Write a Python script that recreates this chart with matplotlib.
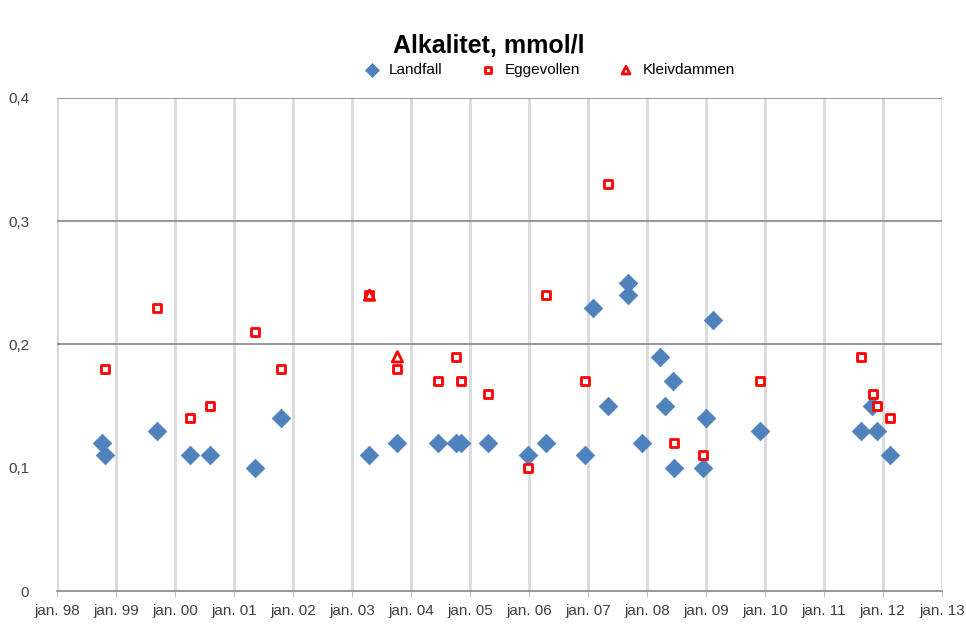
import datetime as dt
import matplotlib
matplotlib.use("Agg")
import matplotlib.pyplot as plt
from matplotlib.ticker import FuncFormatter

# Landfall: sample dates and alkalinity (mmol/l)
landfall_dates = ["1998-10-05", "1998-10-25", "1999-09-10", "2000-04-01", "2000-08-05",
                  "2001-05-10", "2001-10-20", "2003-04-20", "2003-10-05", "2004-06-15",
                  "2004-10-05", "2004-11-05", "2005-04-25", "2005-12-25", "2006-04-20",
                  "2006-12-15", "2007-02-05", "2007-05-05", "2007-09-05", "2007-09-06",
                  "2007-12-05", "2008-03-20", "2008-04-25", "2008-06-10", "2008-06-20",
                  "2008-12-15", "2009-01-01", "2009-02-15", "2009-12-05", "2011-08-20",
                  "2011-10-25", "2011-11-25", "2012-02-15"]
landfall_vals = [0.12, 0.11, 0.13, 0.11, 0.11,
                 0.10, 0.14, 0.11, 0.12, 0.12,
                 0.12, 0.12, 0.12, 0.11, 0.12,
                 0.11, 0.23, 0.15, 0.25, 0.24,
                 0.12, 0.19, 0.15, 0.17, 0.10,
                 0.10, 0.14, 0.22, 0.13, 0.13,
                 0.15, 0.13, 0.11]

# Eggevollen
egge_dates = ["1998-10-25", "1999-09-10", "2000-04-01", "2000-08-05", "2001-05-10",
              "2001-10-20", "2003-04-20", "2003-10-10", "2004-06-20", "2004-10-05",
              "2004-11-05", "2005-04-25", "2005-12-25", "2006-04-20", "2006-12-15",
              "2007-05-05", "2008-06-20", "2008-12-15", "2009-12-05", "2011-08-20",
              "2011-10-30", "2011-11-25", "2012-02-15"]
egge_vals = [0.18, 0.23, 0.14, 0.15, 0.21,
             0.18, 0.24, 0.18, 0.17, 0.19,
             0.17, 0.16, 0.10, 0.24, 0.17,
             0.33, 0.12, 0.11, 0.17, 0.19,
             0.16, 0.15, 0.14]

# Kleivdammen
kleiv_dates = ["2003-04-20", "2003-10-10"]
kleiv_vals = [0.24, 0.19]

year_ticks = list(range(1998, 2014))


def to_dates(strings):
    return [dt.datetime.strptime(s, "%Y-%m-%d") for s in strings]


def main():
    plt.rcParams['font.family'] = ['Liberation Sans Narrow', 'Liberation Sans', 'DejaVu Sans']

    fig = plt.figure(figsize=(9.66, 6.26), dpi=100)
    ax = fig.add_axes([0.059, 0.0559, 0.916, 0.7876])

    ax.scatter(to_dates(landfall_dates), landfall_vals, marker='D', s=90,
               color='#4F81BD', edgecolors='#4F81BD', linewidths=0.5,
               label='Landfall', zorder=3)
    ax.scatter(to_dates(egge_dates), egge_vals, marker='s', s=38,
               facecolors='white', edgecolors='#FF0000', linewidths=2,
               label='Eggevollen', zorder=4)
    ax.scatter(to_dates(kleiv_dates), kleiv_vals, marker='^', s=55,
               facecolors='none', edgecolors='#FF0000', linewidths=2,
               label='Kleivdammen', zorder=5)

    # axes ranges and ticks
    ticks = [dt.datetime(y, 1, 1) for y in year_ticks]
    ax.set_xlim(ticks[0], ticks[-1])
    ax.set_ylim(0, 0.4)
    ax.set_xticks(ticks)
    ax.set_xticklabels(["jan. %02d" % (y % 100) for y in year_ticks])
    ax.set_yticks([0, 0.1, 0.2, 0.3, 0.4])
    ax.yaxis.set_major_formatter(FuncFormatter(
        lambda v, p: "0" if v == 0 else ("%.1f" % v).replace(".", ",")))
    ax.tick_params(axis='both', labelsize=11, colors='#404040', length=0)
    ax.tick_params(axis='y', pad=20)
    ax.tick_params(axis='x', length=4, color='#BFBFBF', direction='out', pad=5)

    # gridlines
    for t in ticks:
        ax.axvline(t, color='#D9D9D9', linewidth=2, zorder=1)
    for v in [0.2, 0.3, 0.4]:
        ax.axhline(v, color='#868686', linewidth=1.2, zorder=2)

    for side in ['top', 'right', 'left']:
        ax.spines[side].set_visible(False)
    ax.spines['bottom'].set_color('#868686')
    ax.spines['bottom'].set_linewidth(1.2)

    fig.suptitle("Alkalitet, mmol/l", x=0.506, y=0.945, fontsize=18, fontweight='bold')
    fig.legend(loc='center', bbox_to_anchor=(0.565, 0.888), ncol=3, frameon=False,
               fontsize=11, handletextpad=0.1, columnspacing=2.0, markerscale=0.75)

    fig.savefig("out.png", dpi=100)


if __name__ == '__main__':
    main()
